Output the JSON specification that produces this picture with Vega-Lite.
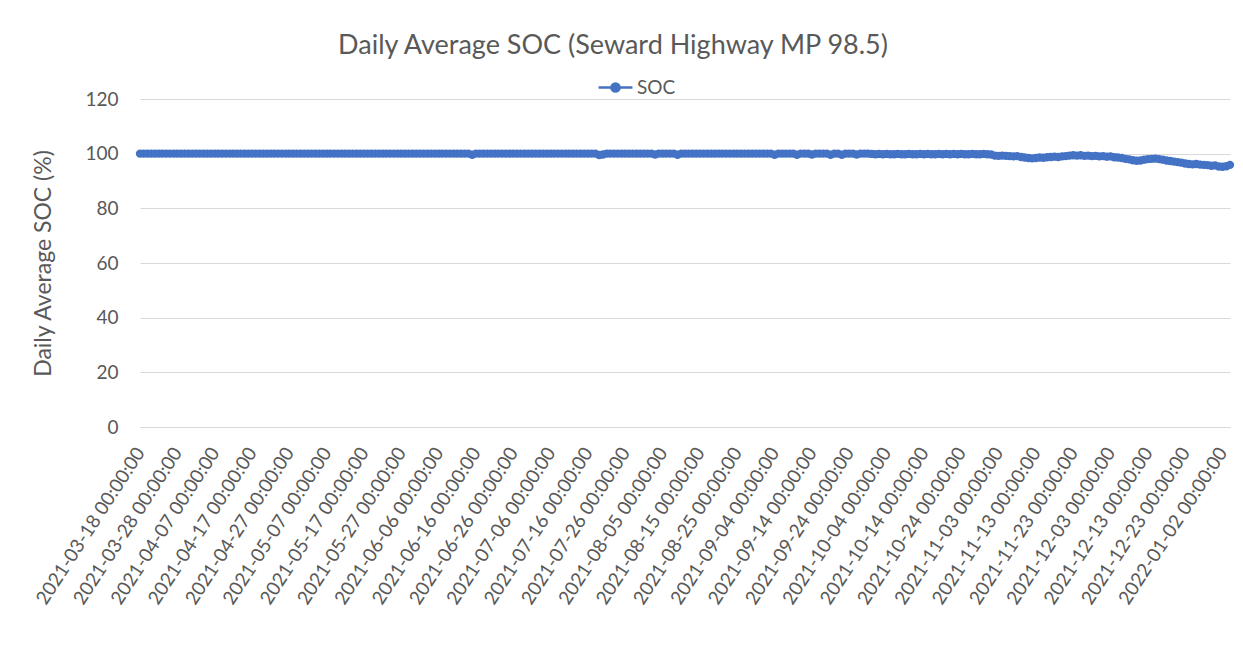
{
  "$schema": "https://vega.github.io/schema/vega-lite/v6.json",
  "autosize": "none",
  "width": 1090,
  "height": 328,
  "padding": {"left": 140, "top": 99, "right": 13, "bottom": 222},
  "background": "white",
  "title": {
    "text": "Daily Average SOC (Seward Highway MP 98.5)",
    "font": "Lato",
    "fontSize": 27,
    "fontWeight": "normal",
    "color": "#595959",
    "anchor": "middle",
    "dx": -72,
    "offset": 9
  },
  "config": {
    "view": {"stroke": null},
    "font": "Lato"
  },
  "data": {
    "values": [
      {"d":"2021-03-18","v":100},{"d":"2021-03-19","v":100},{"d":"2021-03-20","v":100},{"d":"2021-03-21","v":100},{"d":"2021-03-22","v":100},{"d":"2021-03-23","v":100},{"d":"2021-03-24","v":100},{"d":"2021-03-25","v":100},{"d":"2021-03-26","v":100},{"d":"2021-03-27","v":100},{"d":"2021-03-28","v":100},{"d":"2021-03-29","v":100},{"d":"2021-03-30","v":100},{"d":"2021-03-31","v":100},
      {"d":"2021-04-01","v":100},{"d":"2021-04-02","v":100},{"d":"2021-04-03","v":100},{"d":"2021-04-04","v":100},{"d":"2021-04-05","v":100},{"d":"2021-04-06","v":100},{"d":"2021-04-07","v":100},{"d":"2021-04-08","v":100},{"d":"2021-04-09","v":100},{"d":"2021-04-10","v":100},{"d":"2021-04-11","v":100},{"d":"2021-04-12","v":100},{"d":"2021-04-13","v":100},{"d":"2021-04-14","v":100},{"d":"2021-04-15","v":100},{"d":"2021-04-16","v":100},{"d":"2021-04-17","v":100},{"d":"2021-04-18","v":100},{"d":"2021-04-19","v":100},{"d":"2021-04-20","v":100},{"d":"2021-04-21","v":100},{"d":"2021-04-22","v":100},{"d":"2021-04-23","v":100},{"d":"2021-04-24","v":100},{"d":"2021-04-25","v":100},{"d":"2021-04-26","v":100},{"d":"2021-04-27","v":100},{"d":"2021-04-28","v":100},{"d":"2021-04-29","v":100},{"d":"2021-04-30","v":100},
      {"d":"2021-05-01","v":100},{"d":"2021-05-02","v":100},{"d":"2021-05-03","v":100},{"d":"2021-05-04","v":100},{"d":"2021-05-05","v":100},{"d":"2021-05-06","v":100},{"d":"2021-05-07","v":100},{"d":"2021-05-08","v":100},{"d":"2021-05-09","v":100},{"d":"2021-05-10","v":100},{"d":"2021-05-11","v":100},{"d":"2021-05-12","v":100},{"d":"2021-05-13","v":100},{"d":"2021-05-14","v":100},{"d":"2021-05-15","v":100},{"d":"2021-05-16","v":100},{"d":"2021-05-17","v":100},{"d":"2021-05-18","v":100},{"d":"2021-05-19","v":100},{"d":"2021-05-20","v":100},{"d":"2021-05-21","v":100},{"d":"2021-05-22","v":100},{"d":"2021-05-23","v":100},{"d":"2021-05-24","v":100},{"d":"2021-05-25","v":100},{"d":"2021-05-26","v":100},{"d":"2021-05-27","v":100},{"d":"2021-05-28","v":100},{"d":"2021-05-29","v":100},{"d":"2021-05-30","v":100},{"d":"2021-05-31","v":100},
      {"d":"2021-06-01","v":100},{"d":"2021-06-02","v":100},{"d":"2021-06-03","v":100},{"d":"2021-06-04","v":100},{"d":"2021-06-05","v":100},{"d":"2021-06-06","v":100},{"d":"2021-06-07","v":100},{"d":"2021-06-08","v":100},{"d":"2021-06-09","v":100},{"d":"2021-06-10","v":100},{"d":"2021-06-11","v":100},{"d":"2021-06-12","v":100},{"d":"2021-06-13","v":100},{"d":"2021-06-14","v":100},{"d":"2021-06-15","v":99.6},{"d":"2021-06-16","v":100},{"d":"2021-06-17","v":100},{"d":"2021-06-18","v":100},{"d":"2021-06-19","v":100},{"d":"2021-06-20","v":100},{"d":"2021-06-21","v":100},{"d":"2021-06-22","v":100},{"d":"2021-06-23","v":100},{"d":"2021-06-24","v":100},{"d":"2021-06-25","v":100},{"d":"2021-06-26","v":100},{"d":"2021-06-27","v":100},{"d":"2021-06-28","v":100},{"d":"2021-06-29","v":100},{"d":"2021-06-30","v":100},
      {"d":"2021-07-01","v":100},{"d":"2021-07-02","v":100},{"d":"2021-07-03","v":100},{"d":"2021-07-04","v":100},{"d":"2021-07-05","v":100},{"d":"2021-07-06","v":100},{"d":"2021-07-07","v":100},{"d":"2021-07-08","v":100},{"d":"2021-07-09","v":100},{"d":"2021-07-10","v":100},{"d":"2021-07-11","v":100},{"d":"2021-07-12","v":100},{"d":"2021-07-13","v":100},{"d":"2021-07-14","v":100},{"d":"2021-07-15","v":100},{"d":"2021-07-16","v":100},{"d":"2021-07-17","v":100},{"d":"2021-07-18","v":100},{"d":"2021-07-19","v":99.5},{"d":"2021-07-20","v":99.7},{"d":"2021-07-21","v":100},{"d":"2021-07-22","v":100},{"d":"2021-07-23","v":100},{"d":"2021-07-24","v":100},{"d":"2021-07-25","v":100},{"d":"2021-07-26","v":100},{"d":"2021-07-27","v":100},{"d":"2021-07-28","v":100},{"d":"2021-07-29","v":100},{"d":"2021-07-30","v":100},{"d":"2021-07-31","v":100},
      {"d":"2021-08-01","v":100},{"d":"2021-08-02","v":100},{"d":"2021-08-03","v":99.7},{"d":"2021-08-04","v":100},{"d":"2021-08-05","v":100},{"d":"2021-08-06","v":100},{"d":"2021-08-07","v":100},{"d":"2021-08-08","v":100},{"d":"2021-08-09","v":99.6},{"d":"2021-08-10","v":100},{"d":"2021-08-11","v":100},{"d":"2021-08-12","v":100},{"d":"2021-08-13","v":100},{"d":"2021-08-14","v":100},{"d":"2021-08-15","v":100},{"d":"2021-08-16","v":100},{"d":"2021-08-17","v":100},{"d":"2021-08-18","v":100},{"d":"2021-08-19","v":100},{"d":"2021-08-20","v":100},{"d":"2021-08-21","v":100},{"d":"2021-08-22","v":100},{"d":"2021-08-23","v":100},{"d":"2021-08-24","v":100},{"d":"2021-08-25","v":100},{"d":"2021-08-26","v":100},{"d":"2021-08-27","v":100},{"d":"2021-08-28","v":100},{"d":"2021-08-29","v":100},{"d":"2021-08-30","v":100},{"d":"2021-08-31","v":100},
      {"d":"2021-09-01","v":100},{"d":"2021-09-02","v":100},{"d":"2021-09-03","v":100},{"d":"2021-09-04","v":99.6},{"d":"2021-09-05","v":100},{"d":"2021-09-06","v":100},{"d":"2021-09-07","v":100},{"d":"2021-09-08","v":100},{"d":"2021-09-09","v":100},{"d":"2021-09-10","v":99.6},{"d":"2021-09-11","v":100},{"d":"2021-09-12","v":100},{"d":"2021-09-13","v":100},{"d":"2021-09-14","v":99.7},{"d":"2021-09-15","v":100},{"d":"2021-09-16","v":100},{"d":"2021-09-17","v":100},{"d":"2021-09-18","v":100},{"d":"2021-09-19","v":99.6},{"d":"2021-09-20","v":100},{"d":"2021-09-21","v":100},{"d":"2021-09-22","v":99.6},{"d":"2021-09-23","v":100},{"d":"2021-09-24","v":100},{"d":"2021-09-25","v":100},{"d":"2021-09-26","v":99.7},{"d":"2021-09-27","v":100},{"d":"2021-09-28","v":100},{"d":"2021-09-29","v":100},{"d":"2021-09-30","v":99.9},
      {"d":"2021-10-01","v":99.8},{"d":"2021-10-02","v":99.9},{"d":"2021-10-03","v":99.8},{"d":"2021-10-04","v":99.9},{"d":"2021-10-05","v":99.8},{"d":"2021-10-06","v":99.8},{"d":"2021-10-07","v":99.9},{"d":"2021-10-08","v":99.8},{"d":"2021-10-09","v":99.8},{"d":"2021-10-10","v":99.9},{"d":"2021-10-11","v":99.8},{"d":"2021-10-12","v":99.8},{"d":"2021-10-13","v":99.9},{"d":"2021-10-14","v":99.8},{"d":"2021-10-15","v":99.9},{"d":"2021-10-16","v":99.8},{"d":"2021-10-17","v":99.8},{"d":"2021-10-18","v":99.9},{"d":"2021-10-19","v":99.8},{"d":"2021-10-20","v":99.9},{"d":"2021-10-21","v":99.8},{"d":"2021-10-22","v":99.9},{"d":"2021-10-23","v":99.8},{"d":"2021-10-24","v":99.9},{"d":"2021-10-25","v":99.8},{"d":"2021-10-26","v":99.8},{"d":"2021-10-27","v":99.9},{"d":"2021-10-28","v":99.8},{"d":"2021-10-29","v":99.8},{"d":"2021-10-30","v":99.9},{"d":"2021-10-31","v":99.8},
      {"d":"2021-11-01","v":99.7},{"d":"2021-11-02","v":99.3},{"d":"2021-11-03","v":99.2},{"d":"2021-11-04","v":99.3},{"d":"2021-11-05","v":99.2},{"d":"2021-11-06","v":99.1},{"d":"2021-11-07","v":99.0},{"d":"2021-11-08","v":99.1},{"d":"2021-11-09","v":98.8},{"d":"2021-11-10","v":98.6},{"d":"2021-11-11","v":98.4},{"d":"2021-11-12","v":98.3},{"d":"2021-11-13","v":98.4},{"d":"2021-11-14","v":98.6},{"d":"2021-11-15","v":98.5},{"d":"2021-11-16","v":98.7},{"d":"2021-11-17","v":98.8},{"d":"2021-11-18","v":98.9},{"d":"2021-11-19","v":98.8},{"d":"2021-11-20","v":99.0},{"d":"2021-11-21","v":99.1},{"d":"2021-11-22","v":99.3},{"d":"2021-11-23","v":99.4},{"d":"2021-11-24","v":99.3},{"d":"2021-11-25","v":99.4},{"d":"2021-11-26","v":99.2},{"d":"2021-11-27","v":99.3},{"d":"2021-11-28","v":99.1},{"d":"2021-11-29","v":99.2},{"d":"2021-11-30","v":99.0},
      {"d":"2021-12-01","v":99.1},{"d":"2021-12-02","v":98.9},{"d":"2021-12-03","v":99.0},{"d":"2021-12-04","v":98.7},{"d":"2021-12-05","v":98.6},{"d":"2021-12-06","v":98.4},{"d":"2021-12-07","v":98.1},{"d":"2021-12-08","v":97.9},{"d":"2021-12-09","v":97.6},{"d":"2021-12-10","v":97.4},{"d":"2021-12-11","v":97.5},{"d":"2021-12-12","v":97.8},{"d":"2021-12-13","v":98.0},{"d":"2021-12-14","v":98.1},{"d":"2021-12-15","v":98.2},{"d":"2021-12-16","v":98.0},{"d":"2021-12-17","v":97.8},{"d":"2021-12-18","v":97.5},{"d":"2021-12-19","v":97.3},{"d":"2021-12-20","v":97.1},{"d":"2021-12-21","v":96.9},{"d":"2021-12-22","v":96.7},{"d":"2021-12-23","v":96.4},{"d":"2021-12-24","v":96.2},{"d":"2021-12-25","v":96.1},{"d":"2021-12-26","v":96.2},{"d":"2021-12-27","v":96.0},{"d":"2021-12-28","v":95.9},{"d":"2021-12-29","v":95.8},{"d":"2021-12-30","v":95.6},{"d":"2021-12-31","v":95.7},
      {"d":"2022-01-01","v":95.3},{"d":"2022-01-02","v":95.2},{"d":"2022-01-03","v":95.4},{"d":"2022-01-04","v":95.9}
    ]
  },
  "mark": {
    "type": "line",
    "strokeWidth": 2.5,
    "point": {"filled": true, "size": 70, "opacity": 1}
  },
  "encoding": {
    "x": {
      "field": "d",
      "type": "ordinal",
      "sort": "ascending",
      "scale": {"type": "point", "padding": 0},
      "axis": {
        "title": null,
        "values": ["2021-03-18","2021-03-28","2021-04-07","2021-04-17","2021-04-27","2021-05-07","2021-05-17","2021-05-27","2021-06-06","2021-06-16","2021-06-26","2021-07-06","2021-07-16","2021-07-26","2021-08-05","2021-08-15","2021-08-25","2021-09-04","2021-09-14","2021-09-24","2021-10-04","2021-10-14","2021-10-24","2021-11-03","2021-11-13","2021-11-23","2021-12-03","2021-12-13","2021-12-23","2022-01-02"],
        "labelExpr": "datum.label + ' 00:00:00'",
        "labelAngle": -57,
        "labelAlign": "right",
        "labelBaseline": "middle",
        "labelFont": "Lato",
        "labelFontSize": 19,
        "labelColor": "#595959",
        "labelPadding": 22,
        "labelLimit": 400,
        "labelOverlap": false,
        "labelBound": false,
        "ticks": false,
        "grid": false,
        "domain": true,
        "domainColor": "#d9d9d9",
        "domainWidth": 1
      }
    },
    "y": {
      "field": "v",
      "type": "quantitative",
      "scale": {"domain": [0, 120], "nice": false, "zero": true},
      "axis": {
        "title": "Daily Average SOC (%)",
        "titleFont": "Lato",
        "titleFontSize": 23,
        "titleFontWeight": "normal",
        "titleColor": "#595959",
        "titlePadding": 29,
        "values": [0, 20, 40, 60, 80, 100, 120],
        "labelFont": "Lato",
        "labelFontSize": 19,
        "labelColor": "#595959",
        "labelPadding": 22,
        "ticks": false,
        "domain": false,
        "grid": true,
        "gridColor": "#d9d9d9",
        "gridWidth": 1
      }
    },
    "color": {
      "datum": "SOC",
      "scale": {"range": ["#4472C4"]},
      "legend": {
        "title": null,
        "orient": "none",
        "legendX": 457,
        "legendY": -30,
        "symbolType": "M-1,0H1M0.24,0A0.24,0.24,0,1,1,-0.24,0A0.24,0.24,0,1,1,0.24,0Z",
        "symbolSize": 1150,
        "symbolStrokeWidth": 2.5,
        "symbolFillColor": "#4472C4",
        "symbolStrokeColor": "#4472C4",
        "symbolOpacity": 1,
        "labelFont": "Lato",
        "labelFontSize": 19,
        "labelColor": "#595959",
        "labelOffset": 3
      }
    }
  }
}
